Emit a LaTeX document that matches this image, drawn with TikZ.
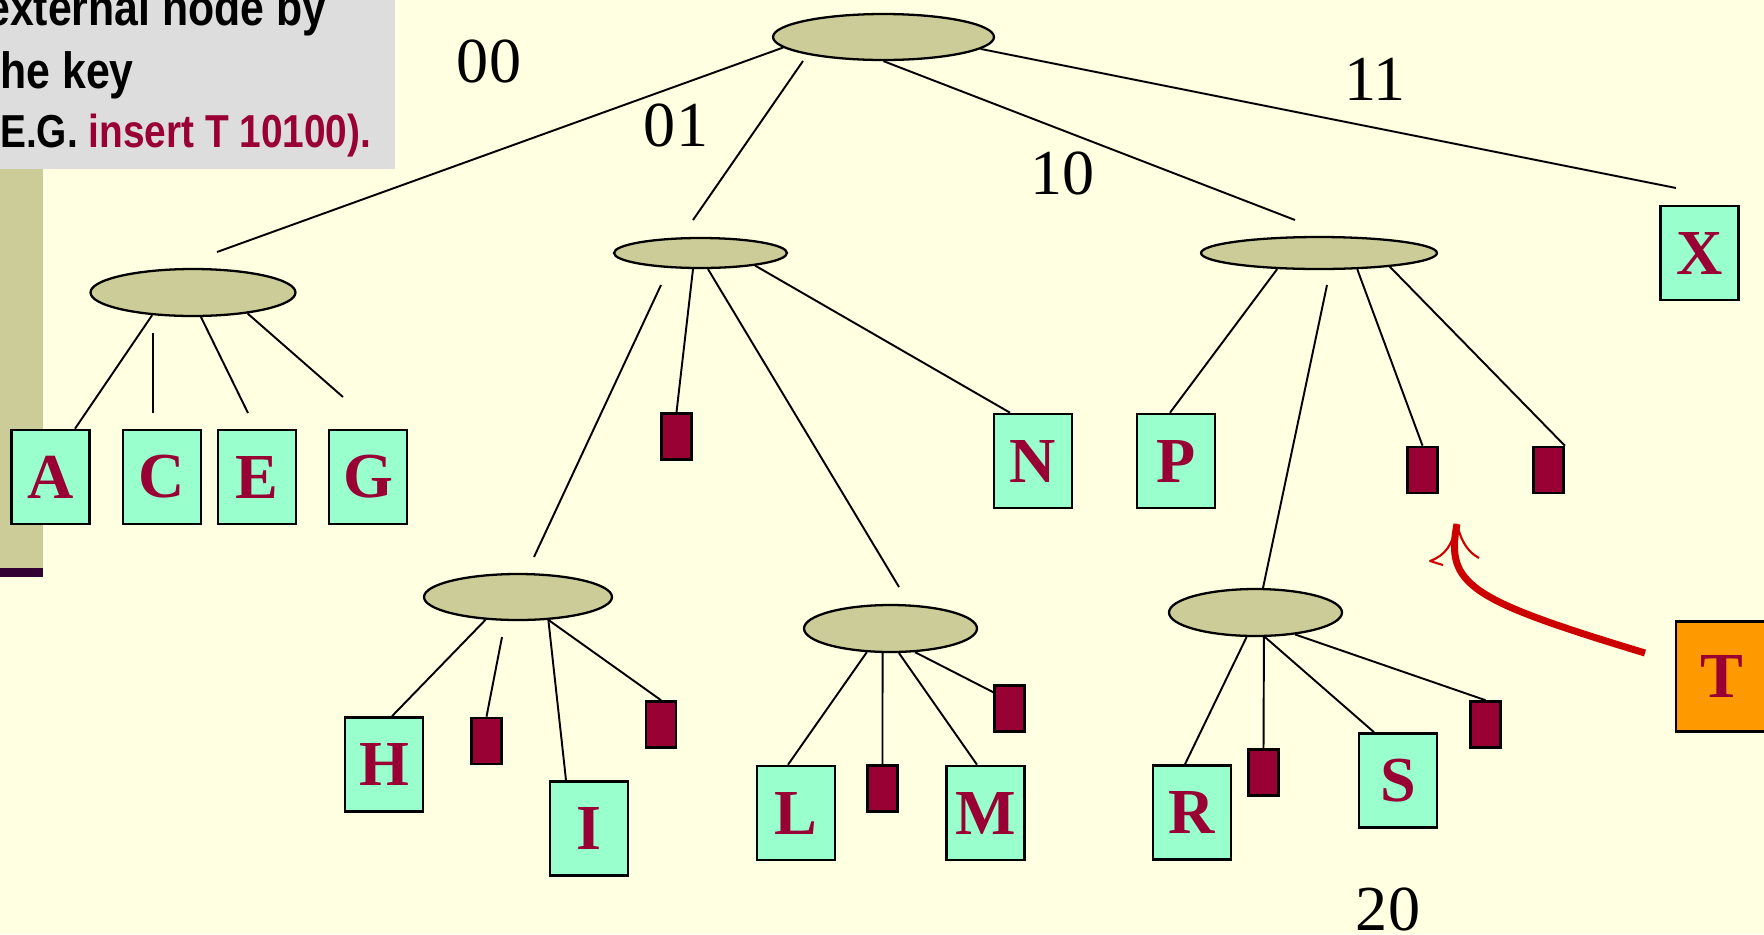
\documentclass[tikz,border=0pt]{standalone}
\usepackage{fontspec}
\setmainfont{Liberation Serif}
\newfontfamily\notefont[FakeStretch=0.84]{Liberation Sans}
\usetikzlibrary{shapes.geometric}

\definecolor{paper}{HTML}{FFFFE1}
\definecolor{notegray}{HTML}{DDDDDD}
\definecolor{olivefill}{HTML}{CCCC99}
\definecolor{barpurple}{HTML}{330033}
\definecolor{keyred}{HTML}{990033}
\definecolor{mint}{HTML}{99FFCC}
\definecolor{tangerine}{HTML}{FF9900}
\definecolor{arrowred}{HTML}{CC0000}

\tikzset{
  inode/.style={ellipse, draw=black, fill=olivefill, line width=1.3pt, inner sep=0pt},
  keybox/.style={rectangle, draw=black, fill=mint, line width=1.5pt, inner sep=0pt,
    minimum width=1.56cm, minimum height=1.88cm, text=keyred,
    font=\fontsize{36.5pt}{40pt}\selectfont\bfseries},
  extbox/.style={rectangle, draw=black, fill=keyred, line width=1.5pt, inner sep=0pt,
    minimum width=0.6cm, minimum height=0.92cm},
  link/.style={draw=black, line width=1.1pt},
  digit/.style={inner sep=0pt, font=\fontsize{36.5pt}{40pt}\selectfont},
  noteline/.style={anchor=base west, inner sep=0pt,
    font=\notefont\bfseries\fontsize{29pt}{32pt}\selectfont},
}

\begin{document}
\begin{tikzpicture}[x=0.02cm, y=-0.02cm]
  % page
  \useasboundingbox (0,0) rectangle (1764,934);
  \fill[paper] (0,0) rectangle (1764,934);

  % side bar and note panel
  \fill[olivefill] (0,169) rectangle (43,568);
  \fill[barpurple] (0,568) rectangle (43,577);
  \fill[notegray] (0,0) rectangle (395,169);
  \node[noteline] (n1) at (-14,25) {external node by};
  \node[noteline] (n2) at (-14,88) {the key};
  \node[noteline, font=\notefont\bfseries\fontsize{26.3pt}{30pt}\selectfont] (n3) at (-13,147)
    {(E.G. \textcolor{keyred}{insert T 10100).}};

  % internal nodes
  \node[inode, minimum width=4.42cm, minimum height=0.92cm] (root) at (883.5,37) {};
  \node[inode, minimum width=4.10cm, minimum height=0.94cm] (eA) at (193,292.5) {};
  \node[inode, minimum width=3.46cm, minimum height=0.60cm] (e01) at (700.5,253) {};
  \node[inode, minimum width=4.72cm, minimum height=0.64cm] (e10) at (1319,253) {};
  \node[inode, minimum width=3.76cm, minimum height=0.92cm] (eH) at (518,597) {};
  \node[inode, minimum width=3.46cm, minimum height=0.94cm] (eL) at (890.5,628.5) {};
  \node[inode, minimum width=3.46cm, minimum height=0.94cm] (eR) at (1255.5,612.5) {};

  % keys
  \node[keybox] (A) at (50.5,477) {A};
  \node[keybox] (C) at (162,477) {C};
  \node[keybox] (E) at (257,477) {E};
  \node[keybox] (G) at (368,477) {G};
  \node[keybox] (N) at (1033,461) {N};
  \node[keybox] (P) at (1176,461) {P};
  \node[keybox] (X) at (1699.5,253) {X};
  \node[keybox] (H) at (384,764.5) {H};
  \node[keybox] (I) at (589,828.5) {I};
  \node[keybox] (L) at (796,813) {L};
  \node[keybox] (M) at (985.5,813) {M};
  \node[keybox] (R) at (1192,812.5) {R};
  \node[keybox] (S) at (1398,780.5) {S};
  \node[keybox, fill=tangerine, minimum width=1.84cm, minimum height=2.2cm] (T) at (1722,676.5) {T};

  % empty external nodes
  \node[extbox] (s01) at (676.5,436.5) {};
  \node[extbox] (s10a) at (1422.5,470) {};
  \node[extbox] (s10b) at (1548.5,470) {};
  \node[extbox] (sH1) at (486.5,741) {};
  \node[extbox] (sH2) at (661,724.5) {};
  \node[extbox] (sL1) at (882.5,788.5) {};
  \node[extbox] (sL2) at (1009.5,708.5) {};
  \node[extbox] (sR1) at (1263.5,772.5) {};
  \node[extbox] (sR2) at (1485.5,724.5) {};

  % loose line ends
  \coordinate (rA) at (217,252);
  \coordinate (r01s) at (803,61);
  \coordinate (r01) at (693,220);
  \coordinate (r10) at (1295,220);
  \coordinate (rX) at (1676,188);
  \coordinate (aCs) at (153,333);
  \coordinate (aCe) at (153,413);
  \coordinate (aEe) at (248,413);
  \coordinate (aGe) at (343,397);
  \coordinate (o1Hs) at (661,285);
  \coordinate (o1He) at (534,557);
  \coordinate (o1Le) at (899,587);
  \coordinate (t10Rs) at (1327,285);
  \coordinate (hS1s) at (502,637);

  % root branches
  \draw[link] (root.186) -- (rA);
  \draw[link] (r01s) -- (r01);
  \draw[link] (root.south) -- (r10);
  \draw[link] (root.353) -- (rX);

  % branch 00
  \draw[link] (eA.209.5) -- ([xshift=0.49cm]A.north);
  \draw[link] (aCs) -- (aCe);
  \draw[link] (eA.288) -- (aEe);
  \draw[link] (eA.339.4) -- (aGe);

  % branch 01
  \draw[link] (o1Hs) -- (o1He);
  \draw[link] (e01.245) -- (s01.north);
  \draw[link] (e01.295) -- (o1Le);
  \draw[link] (e01.347.4) -- ([xshift=-0.46cm]N.north);

  % branch 10
  \draw[link] (e10.201.8) -- ([xshift=-0.12cm]P.north);
  \draw[link] (t10Rs) -- (eR.73);
  \draw[link] (e10.337.6) -- (s10a.north);
  \draw[link] (e10.349.2) -- (s10b.north east);

  % branch 0100..
  \draw[link] (eH.215.2) -- ([xshift=0.16cm]H.north);
  \draw[link] (hS1s) -- (sH1.north);
  \draw[link] (eH.323.8) -- ([xshift=-0.46cm]I.north);
  \draw[link] (eH.323) -- (sH2.north);

  % branch 0110..
  \draw[link] (eL.225.1) -- ([xshift=-0.16cm]L.north);
  \draw[link] (eL.252.9) -- (sL1.north);
  \draw[link] (eL.289.2) -- ([xshift=-0.17cm]M.north);
  \draw[link] (eL.316.2) -- ([yshift=-0.16cm]sL2.north west);

  % branch 1001..
  \draw[link] (eR.250.8) -- ([xshift=-0.14cm]R.north);
  \draw[link] (eR.289.2) -- (sR1.north);
  \draw[link] (eR.291.3) -- ([xshift=-0.48cm]S.north);
  \draw[link] (eR.331) -- (sR2.north);

  % digit labels
  \node[digit] (l00) at (489,61.5) {00};
  \node[digit] (l01) at (676,125) {01};
  \node[digit] (l10) at (1062.5,173.5) {10};
  \node[digit] (l11) at (1375,79) {11};
  \node[digit] (l20) at (1388,909) {20};

  % insertion arrow
  \coordinate (tstart) at (1645,653);
  \coordinate (tip) at (1457,524);
  \draw[arrowred, line width=4pt] (tstart) .. controls (1470,600) and (1445,585) .. (tip);
  \draw[arrowred, line width=1.2pt, line join=round]
    (tip) .. controls (1452,545) and (1446,555) .. (1430,561) -- (1443,565);
  \draw[arrowred, line width=1.2pt]
    (tip) .. controls (1462,545) and (1470,553) .. (1479,558);
\end{tikzpicture}
\end{document}
